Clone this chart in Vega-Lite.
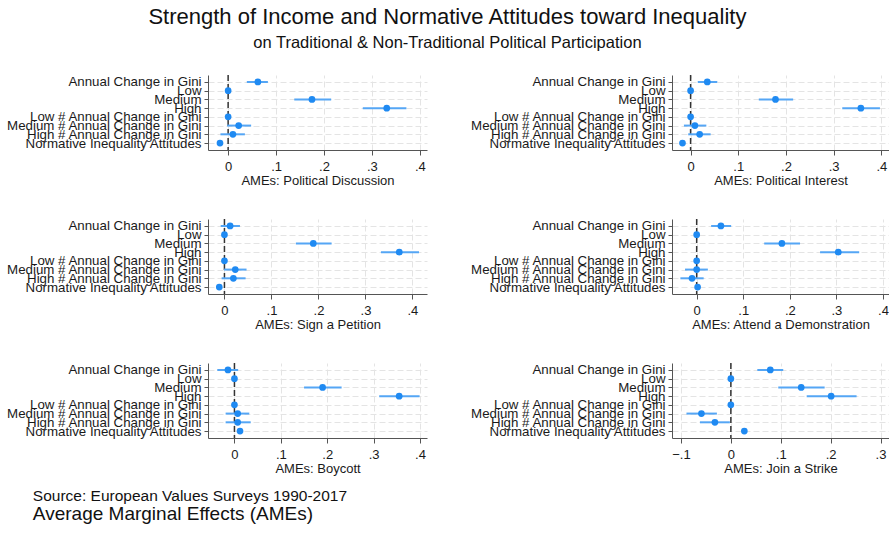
{
  "$schema": "https://vega.github.io/schema/vega-lite/v6.json",
  "background": "white",
  "padding": {"left": 5, "top": 5, "right": 0, "bottom": 0},
  "title": {
    "text": "Strength of Income and Normative Attitudes toward Inequality",
    "subtitle": "on Traditional & Non-Traditional Political Participation",
    "font": "Liberation Sans", "subtitleFont": "Liberation Sans",
    "fontSize": 22, "subtitleFontSize": 16.5, "fontWeight": "normal",
    "color": "#111", "subtitleColor": "#111", "anchor": "middle",
    "subtitlePadding": 6, "offset": 22
  },
  "datasets": {
    "ame": [
      {"panel": "Political Discussion", "term": "Annual Change in Gini", "est": 0.062, "lo": 0.039, "hi": 0.083},
      {"panel": "Political Discussion", "term": "Low", "est": 0, "lo": 0, "hi": 0},
      {"panel": "Political Discussion", "term": "Medium", "est": 0.175, "lo": 0.138, "hi": 0.215},
      {"panel": "Political Discussion", "term": "High", "est": 0.331, "lo": 0.281, "hi": 0.372},
      {"panel": "Political Discussion", "term": "Low # Annual Change in Gini", "est": 0, "lo": 0, "hi": 0},
      {"panel": "Political Discussion", "term": "Medium # Annual Change in Gini", "est": 0.022, "lo": -0.002, "hi": 0.048},
      {"panel": "Political Discussion", "term": "High # Annual Change in Gini", "est": 0.010, "lo": -0.016, "hi": 0.035},
      {"panel": "Political Discussion", "term": "Normative Inequality Attitudes", "est": -0.017, "lo": -0.020, "hi": -0.014},

      {"panel": "Political Interest", "term": "Annual Change in Gini", "est": 0.035, "lo": 0.015, "hi": 0.056},
      {"panel": "Political Interest", "term": "Low", "est": 0, "lo": 0, "hi": 0},
      {"panel": "Political Interest", "term": "Medium", "est": 0.178, "lo": 0.143, "hi": 0.215},
      {"panel": "Political Interest", "term": "High", "est": 0.357, "lo": 0.318, "hi": 0.397},
      {"panel": "Political Interest", "term": "Low # Annual Change in Gini", "est": 0, "lo": 0, "hi": 0},
      {"panel": "Political Interest", "term": "Medium # Annual Change in Gini", "est": 0.009, "lo": -0.014, "hi": 0.033},
      {"panel": "Political Interest", "term": "High # Annual Change in Gini", "est": 0.019, "lo": -0.005, "hi": 0.042},
      {"panel": "Political Interest", "term": "Normative Inequality Attitudes", "est": -0.017, "lo": -0.020, "hi": -0.014},

      {"panel": "Sign a Petition", "term": "Annual Change in Gini", "est": 0.012, "lo": -0.008, "hi": 0.033},
      {"panel": "Sign a Petition", "term": "Low", "est": 0, "lo": 0, "hi": 0},
      {"panel": "Sign a Petition", "term": "Medium", "est": 0.189, "lo": 0.152, "hi": 0.228},
      {"panel": "Sign a Petition", "term": "High", "est": 0.372, "lo": 0.333, "hi": 0.414},
      {"panel": "Sign a Petition", "term": "Low # Annual Change in Gini", "est": 0, "lo": 0, "hi": 0},
      {"panel": "Sign a Petition", "term": "Medium # Annual Change in Gini", "est": 0.023, "lo": -0.001, "hi": 0.047},
      {"panel": "Sign a Petition", "term": "High # Annual Change in Gini", "est": 0.019, "lo": -0.006, "hi": 0.045},
      {"panel": "Sign a Petition", "term": "Normative Inequality Attitudes", "est": -0.011, "lo": -0.014, "hi": -0.008},

      {"panel": "Attend a Demonstration", "term": "Annual Change in Gini", "est": 0.052, "lo": 0.031, "hi": 0.074},
      {"panel": "Attend a Demonstration", "term": "Low", "est": 0, "lo": 0, "hi": 0},
      {"panel": "Attend a Demonstration", "term": "Medium", "est": 0.183, "lo": 0.145, "hi": 0.222},
      {"panel": "Attend a Demonstration", "term": "High", "est": 0.304, "lo": 0.265, "hi": 0.349},
      {"panel": "Attend a Demonstration", "term": "Low # Annual Change in Gini", "est": 0, "lo": 0, "hi": 0},
      {"panel": "Attend a Demonstration", "term": "Medium # Annual Change in Gini", "est": 0.000, "lo": -0.025, "hi": 0.024},
      {"panel": "Attend a Demonstration", "term": "High # Annual Change in Gini", "est": -0.010, "lo": -0.035, "hi": 0.015},
      {"panel": "Attend a Demonstration", "term": "Normative Inequality Attitudes", "est": 0.002, "lo": -0.001, "hi": 0.005},

      {"panel": "Boycott", "term": "Annual Change in Gini", "est": -0.014, "lo": -0.037, "hi": 0.008},
      {"panel": "Boycott", "term": "Low", "est": 0, "lo": 0, "hi": 0},
      {"panel": "Boycott", "term": "Medium", "est": 0.190, "lo": 0.150, "hi": 0.231},
      {"panel": "Boycott", "term": "High", "est": 0.355, "lo": 0.312, "hi": 0.399},
      {"panel": "Boycott", "term": "Low # Annual Change in Gini", "est": 0, "lo": 0, "hi": 0},
      {"panel": "Boycott", "term": "Medium # Annual Change in Gini", "est": 0.007, "lo": -0.019, "hi": 0.032},
      {"panel": "Boycott", "term": "High # Annual Change in Gini", "est": 0.007, "lo": -0.019, "hi": 0.035},
      {"panel": "Boycott", "term": "Normative Inequality Attitudes", "est": 0.012, "lo": 0.009, "hi": 0.015},

      {"panel": "Join a Strike", "term": "Annual Change in Gini", "est": 0.079, "lo": 0.053, "hi": 0.105},
      {"panel": "Join a Strike", "term": "Low", "est": 0, "lo": 0, "hi": 0},
      {"panel": "Join a Strike", "term": "Medium", "est": 0.141, "lo": 0.095, "hi": 0.188},
      {"panel": "Join a Strike", "term": "High", "est": 0.201, "lo": 0.152, "hi": 0.252},
      {"panel": "Join a Strike", "term": "Low # Annual Change in Gini", "est": 0, "lo": 0, "hi": 0},
      {"panel": "Join a Strike", "term": "Medium # Annual Change in Gini", "est": -0.059, "lo": -0.089, "hi": -0.028},
      {"panel": "Join a Strike", "term": "High # Annual Change in Gini", "est": -0.032, "lo": -0.062, "hi": -0.002},
      {"panel": "Join a Strike", "term": "Normative Inequality Attitudes", "est": 0.027, "lo": 0.024, "hi": 0.030}
    ]
  },
  "vconcat": [
    {
      "title": {
        "text": "Source: European Values Surveys 1990-2017",
        "subtitle": "Average Marginal Effects (AMEs)",
        "orient": "bottom", "anchor": "start", "frame": "bounds",
        "font": "Liberation Sans", "subtitleFont": "Liberation Sans",
        "fontSize": 15.5, "subtitleFontSize": 19, "fontWeight": "normal",
        "color": "#111", "subtitleColor": "#111",
        "dx": 27, "offset": 14, "subtitlePadding": 0
      },
      "spacing": 31,
      "vconcat": [
        {
          "spacing": 42,
          "hconcat": [
            {
              "width": 219, "height": 75,
              "layer": [
                {"data": {"values": [{"z": 0}]}, "mark": {"type": "rule", "color": "#333", "strokeDash": [6, 3], "strokeWidth": 1.5},
                 "encoding": {"x": {"field": "z", "type": "quantitative", "scale": {"domain": [-0.042, 0.415], "nice": false, "zero": false}, "axis": {"values": [0, 0.1, 0.2, 0.3, 0.4], "title": "AMEs: Political Discussion"}}}},
                {"data": {"name": "ame"}, "transform": [{"filter": "datum.panel === 'Political Discussion'"}], "mark": {"type": "rule", "color": "#55a6f5", "strokeWidth": 2},
                 "encoding": {"x": {"field": "lo", "type": "quantitative"}, "x2": {"field": "hi"}, "y": {"field": "term", "type": "nominal", "scale": {"type": "point", "padding": 0.8}, "sort": ["Annual Change in Gini", "Low", "Medium", "High", "Low # Annual Change in Gini", "Medium # Annual Change in Gini", "High # Annual Change in Gini", "Normative Inequality Attitudes"]}}},
                {"data": {"name": "ame"}, "transform": [{"filter": "datum.panel === 'Political Discussion'"}], "mark": {"type": "point", "filled": true, "opacity": 1, "size": 45, "color": "#1f8af2"},
                 "encoding": {"x": {"field": "est", "type": "quantitative"}, "y": {"field": "term", "type": "nominal", "scale": {"type": "point", "padding": 0.8}, "sort": ["Annual Change in Gini", "Low", "Medium", "High", "Low # Annual Change in Gini", "Medium # Annual Change in Gini", "High # Annual Change in Gini", "Normative Inequality Attitudes"]}}}
              ]
            },
            {
              "width": 217, "height": 75,
              "layer": [
                {"data": {"values": [{"z": 0}]}, "mark": {"type": "rule", "color": "#333", "strokeDash": [6, 3], "strokeWidth": 1.5},
                 "encoding": {"x": {"field": "z", "type": "quantitative", "scale": {"domain": [-0.039, 0.416], "nice": false, "zero": false}, "axis": {"values": [0, 0.1, 0.2, 0.3, 0.4], "title": "AMEs: Political Interest"}}}},
                {"data": {"name": "ame"}, "transform": [{"filter": "datum.panel === 'Political Interest'"}], "mark": {"type": "rule", "color": "#55a6f5", "strokeWidth": 2},
                 "encoding": {"x": {"field": "lo", "type": "quantitative"}, "x2": {"field": "hi"}, "y": {"field": "term", "type": "nominal", "scale": {"type": "point", "padding": 0.8}, "sort": ["Annual Change in Gini", "Low", "Medium", "High", "Low # Annual Change in Gini", "Medium # Annual Change in Gini", "High # Annual Change in Gini", "Normative Inequality Attitudes"]}}},
                {"data": {"name": "ame"}, "transform": [{"filter": "datum.panel === 'Political Interest'"}], "mark": {"type": "point", "filled": true, "opacity": 1, "size": 45, "color": "#1f8af2"},
                 "encoding": {"x": {"field": "est", "type": "quantitative"}, "y": {"field": "term", "type": "nominal", "scale": {"type": "point", "padding": 0.8}, "sort": ["Annual Change in Gini", "Low", "Medium", "High", "Low # Annual Change in Gini", "Medium # Annual Change in Gini", "High # Annual Change in Gini", "Normative Inequality Attitudes"]}}}
              ]
            }
          ]
        },
        {
          "spacing": 42,
          "hconcat": [
            {
              "width": 219, "height": 75,
              "layer": [
                {"data": {"values": [{"z": 0}]}, "mark": {"type": "rule", "color": "#333", "strokeDash": [6, 3], "strokeWidth": 1.5},
                 "encoding": {"x": {"field": "z", "type": "quantitative", "scale": {"domain": [-0.035, 0.431], "nice": false, "zero": false}, "axis": {"values": [0, 0.1, 0.2, 0.3, 0.4], "title": "AMEs: Sign a Petition"}}}},
                {"data": {"name": "ame"}, "transform": [{"filter": "datum.panel === 'Sign a Petition'"}], "mark": {"type": "rule", "color": "#55a6f5", "strokeWidth": 2},
                 "encoding": {"x": {"field": "lo", "type": "quantitative"}, "x2": {"field": "hi"}, "y": {"field": "term", "type": "nominal", "scale": {"type": "point", "padding": 0.8}, "sort": ["Annual Change in Gini", "Low", "Medium", "High", "Low # Annual Change in Gini", "Medium # Annual Change in Gini", "High # Annual Change in Gini", "Normative Inequality Attitudes"]}}},
                {"data": {"name": "ame"}, "transform": [{"filter": "datum.panel === 'Sign a Petition'"}], "mark": {"type": "point", "filled": true, "opacity": 1, "size": 45, "color": "#1f8af2"},
                 "encoding": {"x": {"field": "est", "type": "quantitative"}, "y": {"field": "term", "type": "nominal", "scale": {"type": "point", "padding": 0.8}, "sort": ["Annual Change in Gini", "Low", "Medium", "High", "Low # Annual Change in Gini", "Medium # Annual Change in Gini", "High # Annual Change in Gini", "Normative Inequality Attitudes"]}}}
              ]
            },
            {
              "width": 217, "height": 75,
              "layer": [
                {"data": {"values": [{"z": 0}]}, "mark": {"type": "rule", "color": "#333", "strokeDash": [6, 3], "strokeWidth": 1.5},
                 "encoding": {"x": {"field": "z", "type": "quantitative", "scale": {"domain": [-0.053, 0.413], "nice": false, "zero": false}, "axis": {"values": [0, 0.1, 0.2, 0.3, 0.4], "title": "AMEs: Attend a Demonstration"}}}},
                {"data": {"name": "ame"}, "transform": [{"filter": "datum.panel === 'Attend a Demonstration'"}], "mark": {"type": "rule", "color": "#55a6f5", "strokeWidth": 2},
                 "encoding": {"x": {"field": "lo", "type": "quantitative"}, "x2": {"field": "hi"}, "y": {"field": "term", "type": "nominal", "scale": {"type": "point", "padding": 0.8}, "sort": ["Annual Change in Gini", "Low", "Medium", "High", "Low # Annual Change in Gini", "Medium # Annual Change in Gini", "High # Annual Change in Gini", "Normative Inequality Attitudes"]}}},
                {"data": {"name": "ame"}, "transform": [{"filter": "datum.panel === 'Attend a Demonstration'"}], "mark": {"type": "point", "filled": true, "opacity": 1, "size": 45, "color": "#1f8af2"},
                 "encoding": {"x": {"field": "est", "type": "quantitative"}, "y": {"field": "term", "type": "nominal", "scale": {"type": "point", "padding": 0.8}, "sort": ["Annual Change in Gini", "Low", "Medium", "High", "Low # Annual Change in Gini", "Medium # Annual Change in Gini", "High # Annual Change in Gini", "Normative Inequality Attitudes"]}}}
              ]
            }
          ]
        },
        {
          "spacing": 42,
          "hconcat": [
            {
              "width": 219, "height": 75,
              "layer": [
                {"data": {"values": [{"z": 0}]}, "mark": {"type": "rule", "color": "#333", "strokeDash": [6, 3], "strokeWidth": 1.5},
                 "encoding": {"x": {"field": "z", "type": "quantitative", "scale": {"domain": [-0.057, 0.415], "nice": false, "zero": false}, "axis": {"values": [0, 0.1, 0.2, 0.3, 0.4], "title": "AMEs: Boycott"}}}},
                {"data": {"name": "ame"}, "transform": [{"filter": "datum.panel === 'Boycott'"}], "mark": {"type": "rule", "color": "#55a6f5", "strokeWidth": 2},
                 "encoding": {"x": {"field": "lo", "type": "quantitative"}, "x2": {"field": "hi"}, "y": {"field": "term", "type": "nominal", "scale": {"type": "point", "padding": 0.8}, "sort": ["Annual Change in Gini", "Low", "Medium", "High", "Low # Annual Change in Gini", "Medium # Annual Change in Gini", "High # Annual Change in Gini", "Normative Inequality Attitudes"]}}},
                {"data": {"name": "ame"}, "transform": [{"filter": "datum.panel === 'Boycott'"}], "mark": {"type": "point", "filled": true, "opacity": 1, "size": 45, "color": "#1f8af2"},
                 "encoding": {"x": {"field": "est", "type": "quantitative"}, "y": {"field": "term", "type": "nominal", "scale": {"type": "point", "padding": 0.8}, "sort": ["Annual Change in Gini", "Low", "Medium", "High", "Low # Annual Change in Gini", "Medium # Annual Change in Gini", "High # Annual Change in Gini", "Normative Inequality Attitudes"]}}}
              ]
            },
            {
              "width": 217, "height": 75,
              "layer": [
                {"data": {"values": [{"z": 0}]}, "mark": {"type": "rule", "color": "#333", "strokeDash": [6, 3], "strokeWidth": 1.5},
                 "encoding": {"x": {"field": "z", "type": "quantitative", "scale": {"domain": [-0.118, 0.317], "nice": false, "zero": false}, "axis": {"values": [-0.1, 0, 0.1, 0.2, 0.3], "title": "AMEs: Join a Strike"}}}},
                {"data": {"name": "ame"}, "transform": [{"filter": "datum.panel === 'Join a Strike'"}], "mark": {"type": "rule", "color": "#55a6f5", "strokeWidth": 2},
                 "encoding": {"x": {"field": "lo", "type": "quantitative"}, "x2": {"field": "hi"}, "y": {"field": "term", "type": "nominal", "scale": {"type": "point", "padding": 0.8}, "sort": ["Annual Change in Gini", "Low", "Medium", "High", "Low # Annual Change in Gini", "Medium # Annual Change in Gini", "High # Annual Change in Gini", "Normative Inequality Attitudes"]}}},
                {"data": {"name": "ame"}, "transform": [{"filter": "datum.panel === 'Join a Strike'"}], "mark": {"type": "point", "filled": true, "opacity": 1, "size": 45, "color": "#1f8af2"},
                 "encoding": {"x": {"field": "est", "type": "quantitative"}, "y": {"field": "term", "type": "nominal", "scale": {"type": "point", "padding": 0.8}, "sort": ["Annual Change in Gini", "Low", "Medium", "High", "Low # Annual Change in Gini", "Medium # Annual Change in Gini", "High # Annual Change in Gini", "Normative Inequality Attitudes"]}}}
              ]
            }
          ]
        }
      ]
    }
  ],
  "config": {
    "view": {"stroke": null},
    "font": "Liberation Sans",
    "axis": {
      "labelFont": "Liberation Sans", "labelFontSize": 13, "labelColor": "#1a1a1a",
      "titleFont": "Liberation Sans", "titleFontSize": 13, "titleFontWeight": "normal", "titleColor": "#1a1a1a",
      "domainColor": "#555", "tickColor": "#555", "gridColor": "#e4e4e4", "gridDash": [6, 3]
    },
    "axisY": {
      "title": null, "grid": true, "tickSize": 4, "labelPadding": 3, "labelOverlap": false, "labelBound": false, "labelLimit": 0, "labelFontSize": 13.3
    },
    "axisX": {
      "tickSize": 5, "labelPadding": 5, "titlePadding": 1,
      "labelExpr": "datum.value == 0 ? '0' : replace(format(datum.value, '.1f'), '0.', '.')"
    }
  }
}
